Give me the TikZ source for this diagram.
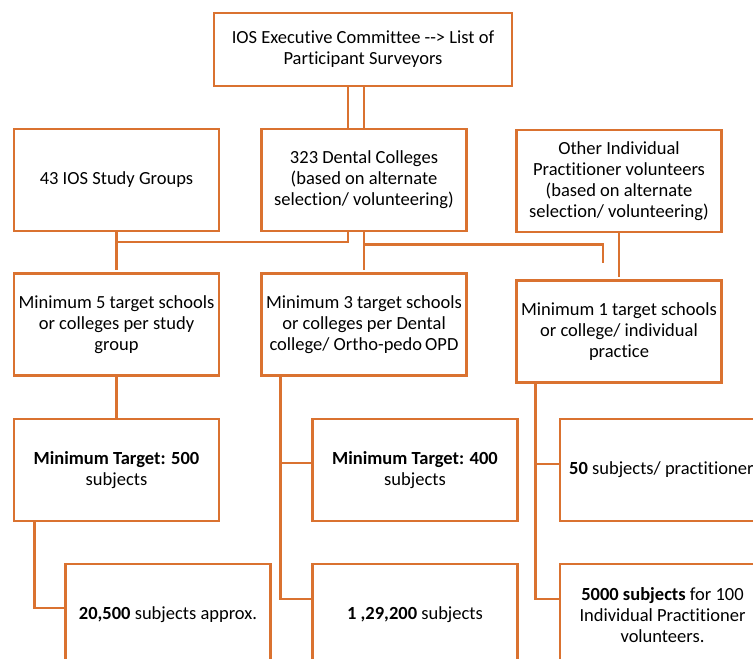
\documentclass[tikz,border=0pt]{standalone}
\usepackage{fontspec}
\setmainfont[Ligatures={NoCommon}]{Carlito}
\definecolor{org}{RGB}{218,114,48}
\begin{document}
\begin{tikzpicture}[x=1pt,y=-1pt,
  box/.style={draw=org, line width=2.6pt, fill=white, align=center, inner sep=1pt,
    font=\fontsize{18.5}{21}\selectfont},
  wide/.style={box, minimum width=205, minimum height=102},
  conn/.style={draw=org, line width=2.6pt}]
\useasboundingbox (0,0) rectangle (753,659);
\clip (0,0) rectangle (753,659);
\fill[white] (0,0) rectangle (753,659);
% row 1
\node[box, minimum width=298, minimum height=73] (top) at (363,49.5)
  {IOS Executive Committee -{}-> List of\\Participant Surveyors};
% row 2
\node[wide] (g43) at (116.5,180) {43 IOS Study Groups};
\node[wide] (dc) at (364,180) {323 Dental Colleges\\(based on alternate\\selection/ volunteering)};
\node[wide] (oth) at (619,181) {Other Individual\\Practitioner volunteers\\(based on alternate\\selection/ volunteering)};
% row 3
\node[wide] (m5) at (116.5,324.5) {Minimum 5 target schools\\or colleges per study\\group};
\node[wide] (m3) at (364,324.5) {Minimum 3 target schools\\or colleges per Dental\\college/ Ortho-pedo\,OPD};
\node[wide] (m1) at (619,331.5) {Minimum 1 target schools\\or college/ individual\\practice};
% row 4
\node[wide] (t500) at (116.5,470) {\textbf{Minimum Target: 500}\\subjects};
\node[wide] (t400) at (415,470) {\textbf{Minimum Target: 400}\\subjects};
\node[wide] (t50) at (662.5,470) {};
\node[font=\fontsize{18.5}{21}\selectfont, anchor=west, inner sep=0pt] (t50txt) at (569,470)
  {\textbf{50} subjects/ practitioner};
% row 5
\node[wide] (s20) at (168,615) {\textbf{20,500} subjects approx.};
\node[wide] (s129) at (415,615) {\textbf{1 ,29,200} subjects};
\node[wide] (s5000) at (662.5,615) {\textbf{5000 subjects} for 100\\Individual Practitioner\\volunteers.};
% connectors
\draw[conn] ([xshift=-15]top.south) -- ([xshift=-16]dc.north);
\draw[conn] ([xshift=1]top.south) -- (dc.north);
\coordinate (jl) at (g43.south |- 0,242);
\draw[conn] ([xshift=-16]dc.south) |- (jl);
\draw[conn] (g43.south) -- ([yshift=2]m5.north);
\draw[conn] (dc.south) -- ([yshift=2]m3.north);
\coordinate (jr) at (603,263);
\draw[conn] ([yshift=-12]dc.south) -| (jr);
\draw[conn] (oth.south) -- ([yshift=2]m1.north);
\draw[conn] (m5.south) -- (t500.north);
\draw[conn] ([xshift=22]t500.south west) |- ([yshift=7]s20.west);
\draw[conn] ([xshift=20]m3.south west) |- ([yshift=16]s129.west);
\draw[conn] ([xshift=20]m3.south west |- t400.west) ++(0,-7) -- ([yshift=7]t400.west);
\draw[conn] ([xshift=20]m1.south west) |- ([yshift=16]s5000.west);
\draw[conn] ([xshift=20]m1.south west |- t50.west) ++(0,-6) -- ([yshift=6]t50.west);
\end{tikzpicture}
\end{document}
